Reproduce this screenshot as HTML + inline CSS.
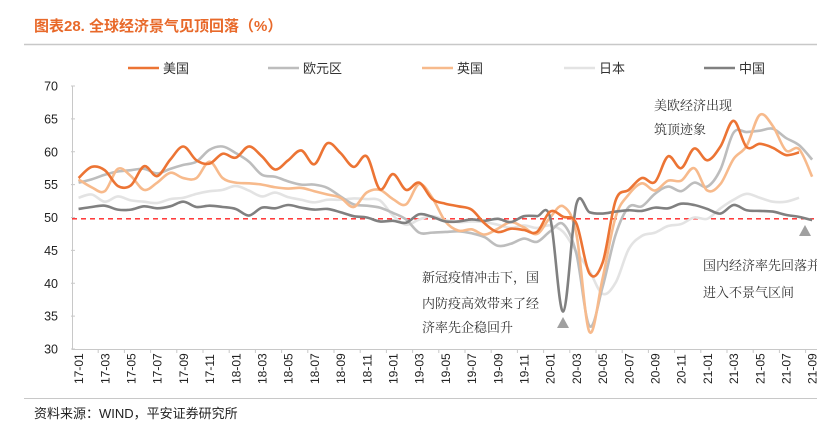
<!DOCTYPE html>
<html><head><meta charset="utf-8">
<style>
body{margin:0;background:#fff;width:817px;height:431px;overflow:hidden;font-family:"Liberation Sans","Noto Sans CJK SC",sans-serif;}
</style></head>
<body>
<svg id="chart" width="817" height="431" xmlns="http://www.w3.org/2000/svg">
<text x="34" y="31" font-size="15" font-weight="bold" fill="#e8692a" font-family="Liberation Sans, Noto Sans CJK SC, sans-serif">图表28.  全球经济景气见顶回落（%）</text>
<line x1="24" y1="44.5" x2="817" y2="44.5" stroke="#c8c8c8" stroke-width="1.5"/>
<line x1="24" y1="398.5" x2="817" y2="398.5" stroke="#c8c8c8" stroke-width="1"/>
<text x="34" y="418" font-size="13" fill="#222">资料来源：WIND，平安证券研究所</text>
<g id="legend"></g>
<g id="axes"></g>
<g id="series"></g>
<g font-family="Liberation Serif, Noto Serif CJK SC, serif" font-size="13" fill="#333">
<text x="422" y="282">新冠疫情冲击下，国</text>
<text x="422" y="308">内防疫高效带来了经</text>
<text x="422" y="332">济率先企稳回升</text>
<text x="654" y="110">美欧经济出现</text>
<text x="654" y="134">筑顶迹象</text>
<text x="703" y="270">国内经济率先回落并</text>
<text x="703" y="297">进入不景气区间</text>
</g>
<polygon points="557,328 569,328 563,317" fill="#a0a0a0"/>
<polygon points="799,236 811,236 805,225" fill="#a0a0a0"/>
</svg>
<script>
const months = [];
for (let y = 17; y <= 21; y++) for (let m = 1; m <= 12; m++) { if (y === 21 && m > 9) break; months.push(y + '-' + String(m).padStart(2, '0')); }
const yTicks = [30, 35, 40, 45, 50, 55, 60, 65, 70];
const threshold = 49.8;
const seriesNames = ['美国', '欧元区', '英国', '日本', '中国'];
const usValues = [56,57.7,57.2,54.8,54.9,57.8,56.3,58.8,60.8,58.7,58.2,59.7,59.1,60.8,59.3,57.3,58.7,60.2,58.1,61.3,59.8,57.7,59.3,54.3,56.6,54.2,55.3,52.8,52.1,51.7,51.2,49.1,47.8,48.3,48.1,47.8,50.9,50.1,49.1,41.5,43.1,52.6,54.2,56,55.4,59.3,57.5,60.5,58.7,60.8,64.7,60.7,61.2,60.6,59.5,59.9];
const euroValues = [55.3,55.8,56.5,57,57.2,57.4,56.7,57.4,58,58.5,60.3,60.8,59.8,58.5,56.5,56.2,55.5,55,55,54.5,53.2,52,51.8,51.5,50.7,49.7,47.7,47.7,47.8,47.9,47.6,47,45.7,46,46.8,46.3,47.9,49,44.5,33.5,39.4,47.4,51.6,51.7,53.6,54.7,54,55.3,54.7,57.3,62.9,63,63.2,63.5,62.1,61,58.8];
const ukValues = [55.8,54.6,54,57.4,56.3,54.2,55.3,56.8,56,56,58.5,56,55.3,55.2,55,54.6,54.4,54.5,54,53.5,53,51.6,53.8,54.2,52.8,52,55.1,53,49.4,48,48.2,47.4,48.3,49.3,48.5,47.5,50,51.7,47.5,32.6,40.7,50.1,53.5,55.2,54.1,55.6,55.6,57.5,54.1,55.1,58.9,60.9,65.6,63.9,60.2,60.4,56.2];
const japanValues = [53,53.5,52.4,53.2,52.6,52.4,52.2,52.8,53,53.6,54,54.2,54.8,54.1,53.2,53.8,53.1,52.7,52.3,52.7,52.7,52.9,52.8,52.6,50.3,48.9,49.7,50.2,49.6,49.3,49.4,49.3,48.9,48.4,48.8,48.4,48.8,47.8,44.8,41.9,38.4,40.1,45.2,47.2,47.7,48.7,49,50,49.8,51.4,52.7,53.6,53,52.4,52.4,53];
const chinaValues = [51.3,51.6,51.8,51.2,51.2,51.7,51.4,51.7,52.4,51.6,51.8,51.6,51.3,50.3,51.5,51.4,51.9,51.5,51.2,51.3,50.8,50.2,50,49.4,49.5,49.2,50.5,50.1,49.4,49.4,49.7,49.5,49.8,49.3,50.2,50.2,50,35.7,52,50.8,50.6,50.9,51.1,51,51.5,51.4,52.1,51.9,51.3,50.6,51.9,51.1,51,50.9,50.4,50.1,49.6];

const NS = 'http://www.w3.org/2000/svg';
const X0 = 72, XW = 13.1, YB = 349, YT = 86;
const xPos = i => X0 + XW * (i + 0.5);
const yPos = v => YB - (v - 30) / 40 * (YB - YT);
function mk(tag, attrs, parent) { const e = document.createElementNS(NS, tag); for (const k in attrs) e.setAttribute(k, attrs[k]); parent.appendChild(e); return e; }

const axes = document.getElementById('axes');
let e = mk('line', {x1: X0 + .5, y1: YT, x2: X0 + .5, y2: YB, stroke: '#c8c8c8', 'stroke-width': 1}, axes);


e = mk('line', {x1: X0, y1: YB + .5, x2: 817, y2: YB + .5, stroke: '#c8c8c8', 'stroke-width': 1}, axes);


yTicks.forEach(t => {
  const y = yPos(t);
  const tk = mk('line', {x1: X0 - 1, y1: y, x2: X0 + 3, y2: y, stroke: '#c8c8c8'}, axes);
  
  
  const lb = mk('text', {x: 58, y: y + 4.5, 'font-size': 12.5, fill: '#222', 'text-anchor': 'end'}, axes);
  lb.textContent = t;
  
  
});
months.forEach((m, i) => {
  if (i % 2 === 0) {
    const xt = X0 + XW * (i + 2);
    const tk = mk('line', {x1: xt, y1: YB, x2: xt, y2: YB + 4, stroke: '#c8c8c8'}, axes);
    
    
    const x = xPos(i) + 4.5;
    const lb = mk('text', {x: x, y: 384, 'font-size': 12, fill: '#222', transform: 'rotate(-90 ' + x + ' 384)'}, axes);
    lb.textContent = m;
    
    
  }
});
e = mk('line', {x1: X0, y1: yPos(threshold), x2: 814, y2: yPos(threshold), stroke: '#ff2020', 'stroke-width': 1.3, 'stroke-dasharray': '5,4'}, axes);



function smoothPath(vals) {
  const p = vals.map((v, i) => [xPos(i), yPos(v)]);
  let d = 'M' + p[0][0] + ',' + p[0][1];
  const t = 0.17;
  for (let i = 0; i < p.length - 1; i++) {
    const p0 = p[i - 1] || p[i], p1 = p[i], p2 = p[i + 1], p3 = p[i + 2] || p[i + 1];
    const c1 = [p1[0] + (p2[0] - p0[0]) * t, p1[1] + (p2[1] - p0[1]) * t];
    const c2 = [p2[0] - (p3[0] - p1[0]) * t, p2[1] - (p3[1] - p1[1]) * t];
    d += ' C' + c1.join(',') + ' ' + c2.join(',') + ' ' + p2.join(',');
  }
  return d;
}
const sg = document.getElementById('series');
const drawOrder = [
  [japanValues, '#e3e3e3', 'series-japan'],
  [euroValues, '#bdbdbd', 'series-eurozone'],
  [ukValues, '#f7ba8c', 'series-uk'],
  [chinaValues, '#808080', 'series-china'],
  [usValues, '#ec7434', 'series-us']
];
drawOrder.forEach(s => {
  const pth = mk('path', {d: smoothPath(s[0]), fill: 'none', stroke: s[1], 'stroke-width': 2.6, 'stroke-linejoin': 'round'}, sg);
  
  
});
const lg = document.getElementById('legend');
const legendColors = ['#ec7434', '#bdbdbd', '#f7ba8c', '#e3e3e3', '#808080'];
const legendX = [128, 268, 422, 564, 704];
seriesNames.forEach((n, i) => {
  const ln = mk('line', {x1: legendX[i], y1: 68, x2: legendX[i] + 31, y2: 68, stroke: legendColors[i], 'stroke-width': 2.6}, lg);
  
  
  const tx = mk('text', {x: legendX[i] + 35, y: 73, 'font-size': 13, fill: '#333'}, lg);
  tx.textContent = n;
  
  
});
</script>
</body></html>
